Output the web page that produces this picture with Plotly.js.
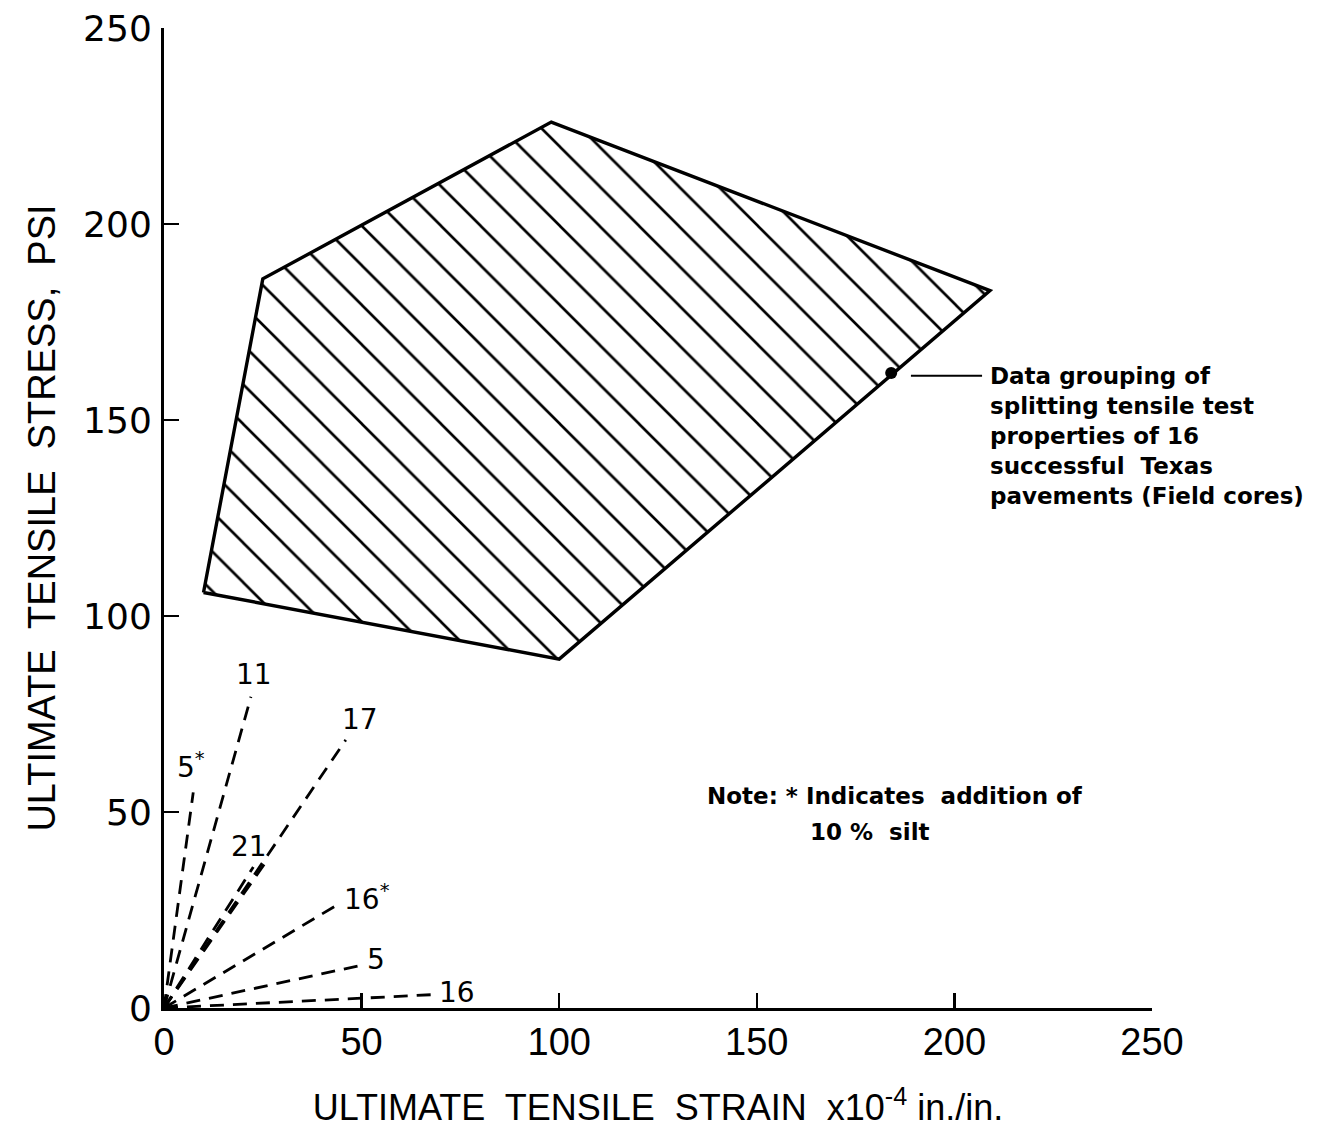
<!DOCTYPE html>
<html>
<head>
<meta charset="utf-8">
<script src="https://cdn.plot.ly/plotly-3.0.1.min.js"></script>
<style>
  html, body { margin: 0; padding: 0; background: #ffffff; }
  #chart { width: 1320px; height: 1141px; }
</style>
</head>
<body>
<div id="chart"></div>
<script>
// Envelope of splitting tensile test results for 16 field cores (strain x1e-4, stress psi)
const envelopeStrain = [10, 25, 98, 209, 100];
const envelopeStress = [106, 186, 226, 183, 89];

// Marked point on the envelope edge that the description points to
const markerStrain = [184];
const markerStress = [162];

// Individual mixtures: end point of each line drawn from the origin
const mixLabels = ['11', '17', '5*', '21', '21', '16*', '5', '16'];
const mixStrain = [22, 46, 7.4, 22.6, 25.6, 44.5, 50.4, 68];
const mixStress = [79.4, 68.4, 55, 36, 37, 26.7, 11, 3.4];

const xTicks = [0, 50, 100, 150, 200, 250];
const yTicks = [0, 50, 100, 150, 200, 250];

const traces = [];

// hatched envelope
traces.push({
  x: envelopeStrain.concat([envelopeStrain[0]]),
  y: envelopeStress.concat([envelopeStress[0]]),
  mode: 'lines',
  fill: 'toself',
  fillcolor: 'rgba(255,255,255,0)',
  fillpattern: { shape: '\\', size: 28, solidity: 0.095, fgcolor: '#000000', bgcolor: 'rgba(255,255,255,0)' },
  line: { color: '#000000', width: 3.4 },
  hoverinfo: 'skip',
  showlegend: false
});

// dashed lines from the origin
for (let i = 0; i < mixLabels.length; i++) {
  traces.push({
    x: [0, mixStrain[i]],
    y: [0, mixStress[i]],
    mode: 'lines',
    line: { color: '#000000', width: 2.8, dash: '14px,9px' },
    hoverinfo: 'skip',
    showlegend: false
  });
}

// marked point
traces.push({
  x: markerStrain,
  y: markerStress,
  mode: 'markers',
  marker: { color: '#000000', size: 12 },
  hoverinfo: 'skip',
  showlegend: false
});

const labelFont = { family: 'DejaVu Sans', size: 23, color: '#000000' };
const annotations = [];

// labels placed relative to each line end
const labelPlacement = {
  '11':  { xanchor: 'center', yanchor: 'bottom', xshift: 3, yshift: 4 },
  '17':  { xanchor: 'center', yanchor: 'bottom', xshift: 14, yshift: 2 },
  '5*':  { xanchor: 'center', yanchor: 'bottom', xshift: -2, yshift: 6 },
  '21':  { xanchor: 'center', yanchor: 'bottom', xshift: -4, yshift: 2 },
  '16*': { xanchor: 'left', yanchor: 'middle', xshift: 2, yshift: 6 },
  '5':   { xanchor: 'left', yanchor: 'middle', xshift: 2, yshift: 5 },
  '16':  { xanchor: 'left', yanchor: 'middle', xshift: 4, yshift: 2 }
};
const seen = {};
for (let i = 0; i < mixLabels.length; i++) {
  const lab = mixLabels[i];
  if (seen[lab]) continue;
  seen[lab] = true;
  const p = labelPlacement[lab];
  const txt = lab.endsWith('*') ? lab.slice(0, -1) + '<sup>*</sup>' : lab;
  annotations.push({
    x: mixStrain[i], y: mixStress[i], xref: 'x', yref: 'y',
    text: txt, showarrow: false,
    xanchor: p.xanchor, yanchor: p.yanchor, xshift: p.xshift, yshift: p.yshift,
    font: { family: 'DejaVu Sans', size: 28, color: '#000000' }
  });
}

// description of the envelope
annotations.push({
  x: 209, y: markerStress[0], xref: 'x', yref: 'y',
  xanchor: 'left', yanchor: 'top', xshift: -2, yshift: 12,
  align: 'left', showarrow: false,
  text: '<b>Data grouping of<br>splitting tensile test<br>properties of 16<br>successful  Texas<br>pavements (Field cores)</b>',
  font: labelFont
});

// note
annotations.push({
  x: 137, y: 54, xref: 'x', yref: 'y', xanchor: 'left', yanchor: 'middle',
  showarrow: false, text: '<b>Note: * Indicates  addition of</b>', font: labelFont
});
annotations.push({
  x: 163, y: 45, xref: 'x', yref: 'y', xanchor: 'left', yanchor: 'middle',
  showarrow: false, text: '<b>10 %  silt</b>', font: labelFont
});

const layout = {
  width: 1320,
  height: 1141,
  margin: { l: 164, r: 168, t: 28, b: 133 },
  paper_bgcolor: '#ffffff',
  plot_bgcolor: '#ffffff',
  showlegend: false,
  xaxis: {
    range: [0, 250],
    tickvals: xTicks,
    ticktext: xTicks.map(String),
    ticks: 'inside', ticklen: 15, tickwidth: 2.4, tickcolor: '#000000',
    showline: true, linecolor: '#000000', linewidth: 3,
    showgrid: false, zeroline: false,
    tickfont: { family: 'Liberation Sans', size: 38, color: '#000000' },
    ticklabelstandoff: -2,
    title: {
      text: 'ULTIMATE  TENSILE  STRAIN  x10<sup>-4</sup> in./in.',
      font: { family: 'Liberation Sans', size: 36, color: '#000000' },
      standoff: 34
    }
  },
  yaxis: {
    range: [0, 250],
    tickvals: yTicks,
    ticktext: yTicks.map(String),
    ticks: 'inside', ticklen: 15, tickwidth: 2.4, tickcolor: '#000000',
    showline: true, linecolor: '#000000', linewidth: 3,
    showgrid: false, zeroline: false,
    tickfont: { family: 'DejaVu Sans', size: 36, color: '#000000' },
    ticklabelstandoff: 2,
    title: {
      text: 'ULTIMATE  TENSILE  STRESS,  PSI',
      font: { family: 'Liberation Sans', size: 38, color: '#000000' },
      standoff: 16
    }
  },
  shapes: [
    // leader from the marked point to its description
    { type: 'line', xref: 'x', yref: 'y', x0: 189, x1: 207, y0: 161.3, y1: 161.3,
      line: { color: '#000000', width: 2 } }
  ],
  annotations: annotations
};

Plotly.newPlot('chart', traces, layout, { displayModeBar: false, staticPlot: true });
</script>
</body>
</html>
